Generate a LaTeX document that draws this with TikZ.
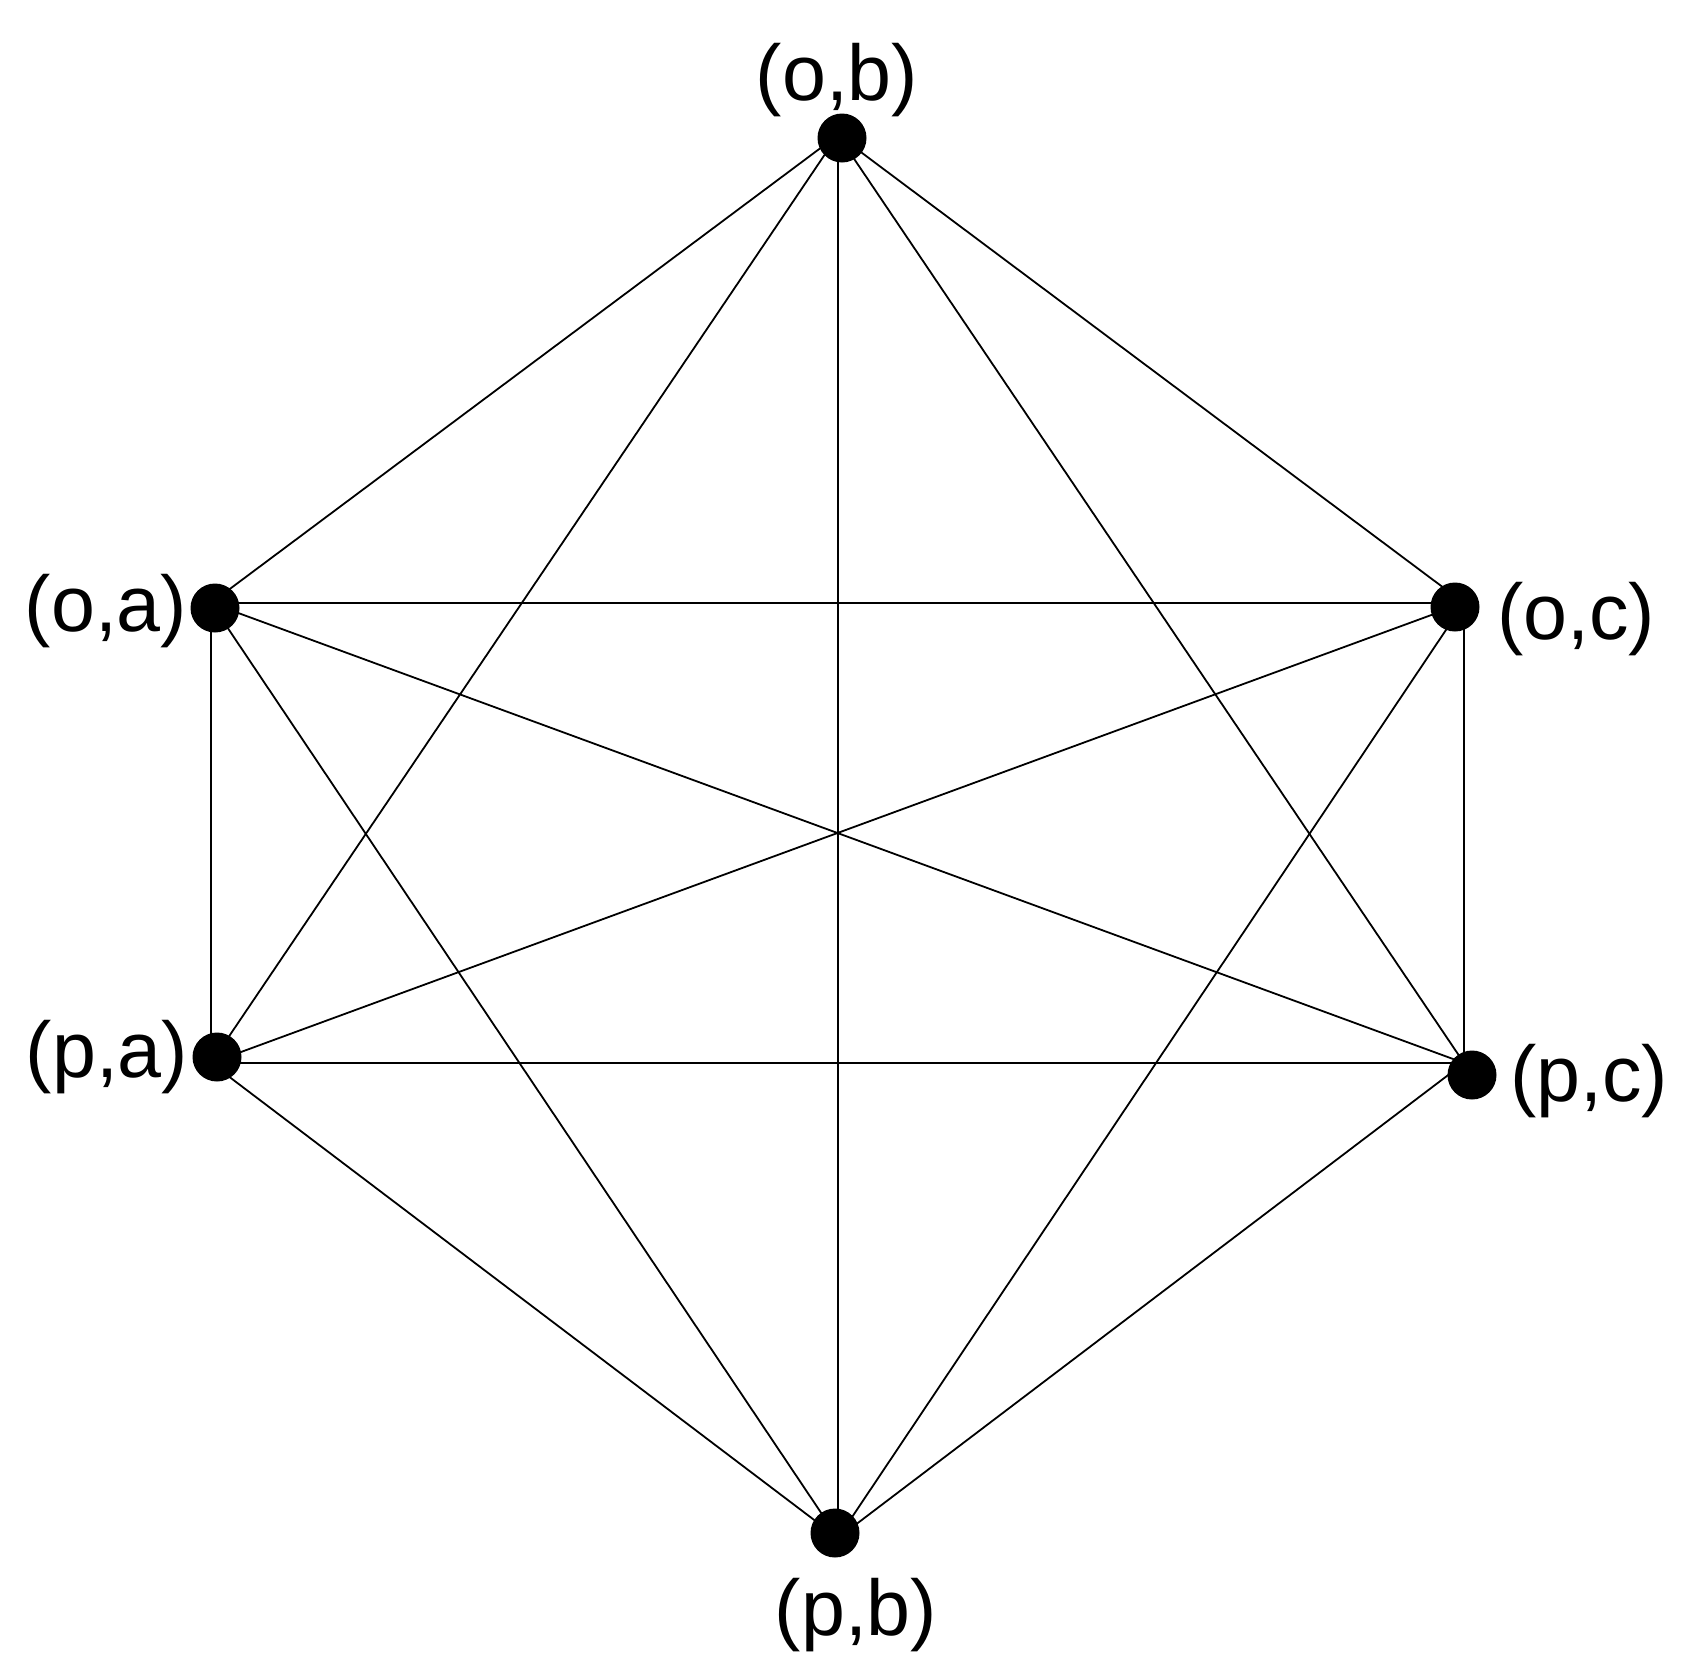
\documentclass[tikz,border=0pt]{standalone}
\usepackage{fontspec}
\setmainfont{Liberation Sans}
\begin{document}
\begin{tikzpicture}[x=1pt,y=-1pt,
  vtx/.style={circle,fill=black,draw=none,minimum size=49pt,inner sep=0pt},
  lbl/.style={inner sep=0pt,font=\fontsize{79}{90}\selectfont},
  edge/.style={line width=1.8pt,black}]
\useasboundingbox[fill=white] (0,0) rectangle (1688,1673);
% line meeting points
\coordinate (ob) at (838,135);
\coordinate (oa) at (211,603);
\coordinate (oc) at (1464,603);
\coordinate (pa) at (211,1063);
\coordinate (pc) at (1464,1063);
\coordinate (pb) at (838,1538);
\foreach \a/\b in {ob/oa,ob/oc,ob/pa,ob/pb,ob/pc,oa/oc,oa/pa,oa/pb,oa/pc,oc/pa,oc/pb,oc/pc,pa/pb,pa/pc,pb/pc}
  \draw[edge] (\a) -- (\b);
% dots
\node[vtx] (dob) at (842,138) {};
\node[vtx] (doa) at (215,608) {};
\node[vtx] (doc) at (1455,607) {};
\node[vtx] (dpa) at (217,1057) {};
\node[vtx] (dpc) at (1472,1075) {};
\node[vtx] (dpb) at (835,1533) {};
% labels
\node[lbl] (lob) at (837,80) {(o,b)};
\node[lbl] (loa) at (106,611) {(o,a)};
\node[lbl] (loc) at (1576,619) {(o,c)};
\node[lbl] (lpa) at (107,1057) {(p,a)};
\node[lbl] (lpc) at (1589,1081) {(p,c)};
\node[lbl] (lpb) at (856,1615) {(p,b)};
\end{tikzpicture}
\end{document}
